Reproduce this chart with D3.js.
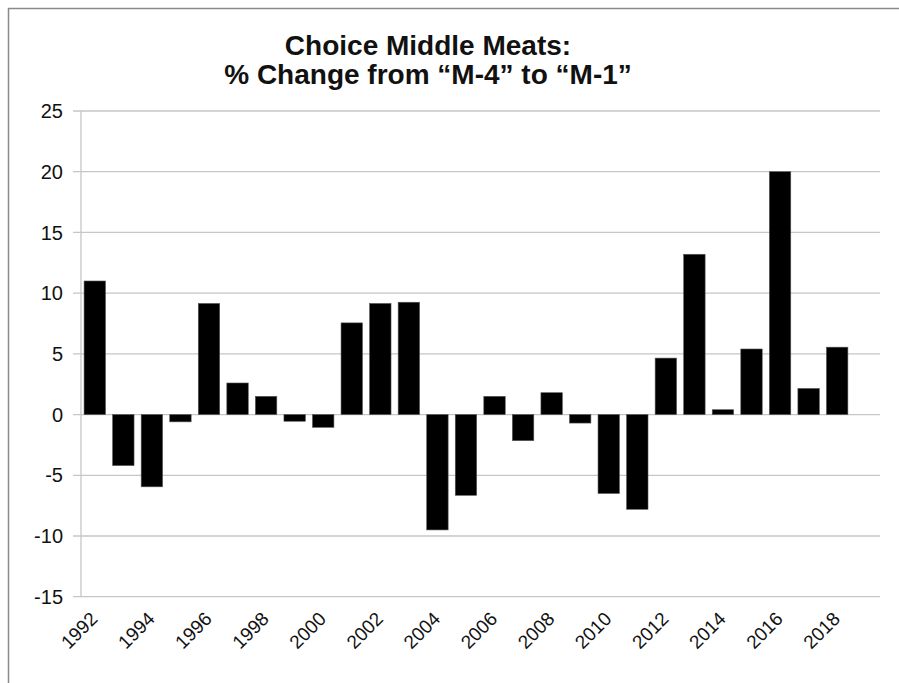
<!DOCTYPE html>
<html lang="en">
<head>
    <meta charset="UTF-8">
    <title>Choice Middle Meats</title>
    <script src="https://cdn.jsdelivr.net/npm/d3@7"></script>
    <style>
        body { margin: 0; background: #fff; font-family: "Liberation Sans", Arial, sans-serif; }
    </style>
</head>
<body>
<div id="chart"></div>
<script>
// years on the category axis (2019 slot is empty in the original)
const years = [1992, 1993, 1994, 1995, 1996, 1997, 1998, 1999, 2000, 2001,
               2002, 2003, 2004, 2005, 2006, 2007, 2008, 2009, 2010, 2011,
               2012, 2013, 2014, 2015, 2016, 2017, 2018, 2019];
// % change from "M-4" to "M-1"
const pctChange = [11.0, -4.2, -5.95, -0.6, 9.15, 2.6, 1.5, -0.55, -1.05, 7.55,
                   9.15, 9.25, -9.5, -6.65, 1.5, -2.15, 1.8, -0.7, -6.5, -7.8,
                   4.65, 13.2, 0.4, 5.4, 20.0, 2.15, 5.55, null];
const yTicks = [-15, -10, -5, 0, 5, 10, 15, 20, 25];
const titleLines = ["Choice Middle Meats:", "% Change from \u201CM-4\u201D to \u201CM-1\u201D"];

const W = 899, H = 683;
const svg = d3.select("#chart").append("svg").attr("width", W).attr("height", H);

// outer frame (top and left edges visible)
svg.append("path")
    .attr("d", "M8.5,683 V8.5 H899")
    .attr("fill", "none")
    .attr("stroke", "#8a8a8a")
    .attr("stroke-width", 1.5);

const x = d3.scaleBand().domain(years).range([80.5, 880]).paddingInner(0.25).paddingOuter(0.125);
const y = d3.scaleLinear().domain([-15, 25]).range([596.7, 111]);

// gridlines
svg.append("g").selectAll("line")
    .data(yTicks)
    .join("line")
    .attr("x1", 73).attr("x2", 880)
    .attr("y1", d => y(d)).attr("y2", d => y(d))
    .attr("stroke", "#c6c6c6").attr("stroke-width", 1.3);

// vertical axis line
svg.append("line")
    .attr("x1", 81).attr("x2", 81)
    .attr("y1", y(25)).attr("y2", y(-15))
    .attr("stroke", "#c6c6c6").attr("stroke-width", 1.3);

// y tick labels
svg.append("g").selectAll("text")
    .data(yTicks)
    .join("text")
    .attr("x", 63)
    .attr("y", d => y(d))
    .attr("dy", "0.36em")
    .attr("text-anchor", "end")
    .attr("font-size", 20)
    .attr("fill", "#111")
    .text(d => d);

// bars
svg.append("g").selectAll("rect")
    .data(years.map((yr, i) => ({yr, v: pctChange[i]})).filter(d => d.v !== null))
    .join("rect")
    .attr("x", d => x(d.yr))
    .attr("width", x.bandwidth())
    .attr("y", d => y(Math.max(0, d.v)))
    .attr("height", d => Math.abs(y(d.v) - y(0)))
    .attr("fill", "#000")
    .attr("stroke", "#555")
    .attr("stroke-width", 0.6);

// x labels, every other year
svg.append("g").selectAll("text")
    .data(years.filter((yr, i) => i % 2 === 0 && yr <= 2018))
    .join("text")
    .attr("transform", d => `translate(${x(d) + x.bandwidth() / 2 + 4},${620}) rotate(-45)`)
    .attr("text-anchor", "end")
    .attr("font-size", 19)
    .attr("fill", "#111")
    .text(d => d);

// title
svg.append("g").selectAll("text")
    .data(titleLines)
    .join("text")
    .attr("x", 428)
    .attr("y", (d, i) => 55 + i * 29)
    .attr("text-anchor", "middle")
    .attr("font-size", 28)
    .attr("font-weight", "bold")
    .attr("fill", "#111")
    .text(d => d);
</script>
</body>
</html>
